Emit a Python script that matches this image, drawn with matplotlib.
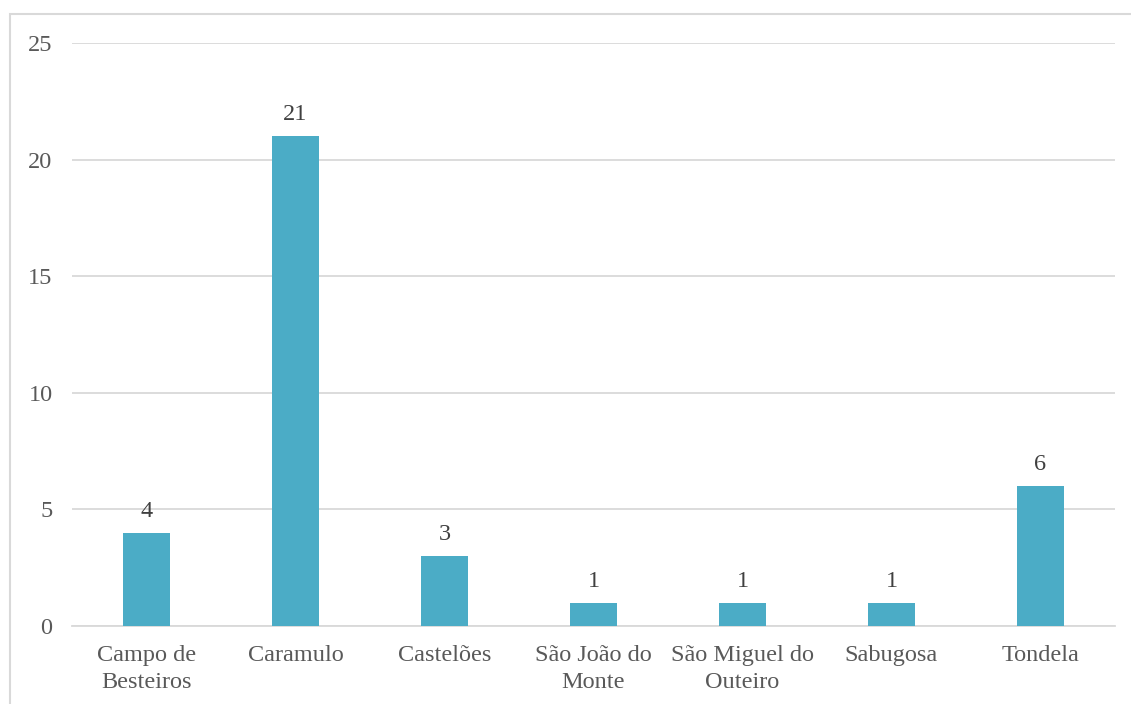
import matplotlib.pyplot as plt
from matplotlib.patches import Rectangle

plt.rcParams['font.family'] = ['Liberation Serif', 'DejaVu Serif']

localidades = ['Campo de\nBesteiros', 'Caramulo', 'Castelões', 'São João do\nMonte',
               'São Miguel do\nOuteiro', 'Sabugosa', 'Tondela']
valores = [4, 21, 3, 1, 1, 1, 6]
yticks = [0, 5, 10, 15, 20, 25]

fig = plt.figure(figsize=(11.31, 7.04), dpi=100)
fig.patches.append(Rectangle((10 / 1131, -0.1), 1.2, 1.1 - 13.5 / 704, transform=fig.transFigure,
                             fill=False, edgecolor='#d9d9d9', linewidth=1.5))
ax = fig.add_axes([72 / 1131, 1 - 626 / 704, (1115 - 72) / 1131, (626 - 43) / 704])

x = list(range(len(localidades)))
bars = ax.bar(x, valores, width=0.315, color='#4bacc6', zorder=3)
for xi, v in zip(x, valores):
    ax.annotate(str(v), (xi, v), xytext=(0, 8), textcoords='offset points',
                ha='center', va='bottom', fontsize=17.5, color='#404040')

ax.set_xlim(-0.5, len(localidades) - 0.5)
ax.set_ylim(0, 25)
ax.set_yticks(yticks)
ax.set_xticks(x)
ax.set_xticklabels(localidades, fontsize=17.5, color='#595959', linespacing=1.35)
ax.tick_params(axis='y', labelsize=17.5, labelcolor='#595959', length=0, pad=14)
ax.tick_params(axis='x', length=0, pad=14)
ax.grid(axis='y', color='#d9d9d9', linewidth=1.3, zorder=0)
for s in ['top', 'right', 'left']:
    ax.spines[s].set_visible(False)
ax.spines['bottom'].set_color('#d9d9d9')
ax.spines['bottom'].set_linewidth(1.3)

fig.savefig('out.png', dpi=100)
